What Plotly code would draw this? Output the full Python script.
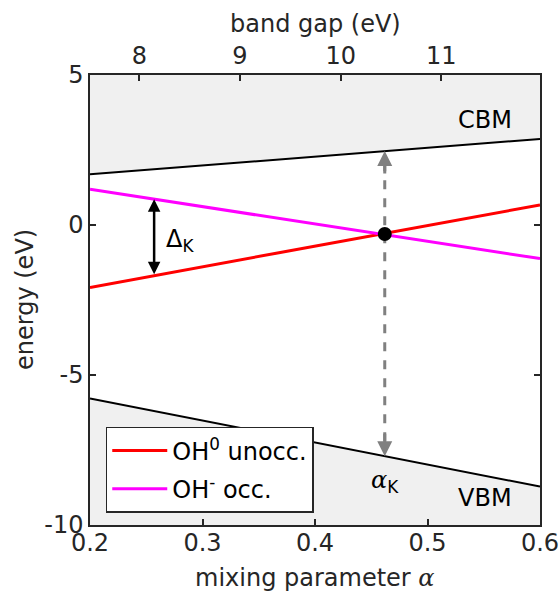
import plotly.graph_objects as go

# ---- data ----
alpha_ends = [0.2, 0.6]
cbm = [1.69, 2.87]          # conduction band minimum (eV)
vbm = [-5.78, -8.72]        # valence band maximum (eV)
oh0_unocc = [-2.08, 0.67]   # OH0 unoccupied level
ohm_occ = [1.19, -1.12]     # OH- occupied level
gap_ticks = [8, 9, 10, 11]
gap_range = [7.51, 11.98]
x_ticks = [0.2, 0.3, 0.4, 0.5, 0.6]
y_ticks = [5, 0, -5, -10]
alpha_delta = 0.257
alpha_k = 0.462


def lin(vals, a):
    t = (a - alpha_ends[0]) / (alpha_ends[1] - alpha_ends[0])
    return vals[0] + (vals[1] - vals[0]) * t


e_k = 0.5 * (lin(oh0_unocc, alpha_k) + lin(ohm_occ, alpha_k))

FONT = "DejaVu Sans"
GRAY = "rgb(240,240,240)"
AX = "#262626"
FS = 24

fig = go.Figure()

# shaded CBM region
fig.add_trace(go.Scatter(x=[alpha_ends[0], alpha_ends[1], alpha_ends[1], alpha_ends[0]],
                         y=[cbm[0], cbm[1], 5, 5], fill="toself", fillcolor=GRAY,
                         line=dict(width=0), mode="lines", showlegend=False, hoverinfo="skip"))
# shaded VBM region
fig.add_trace(go.Scatter(x=[alpha_ends[0], alpha_ends[1], alpha_ends[1], alpha_ends[0]],
                         y=[vbm[0], vbm[1], -10, -10], fill="toself", fillcolor=GRAY,
                         line=dict(width=0), mode="lines", showlegend=False, hoverinfo="skip"))
fig.add_trace(go.Scatter(x=alpha_ends, y=cbm, mode="lines", line=dict(color="black", width=2),
                         showlegend=False))
fig.add_trace(go.Scatter(x=alpha_ends, y=vbm, mode="lines", line=dict(color="black", width=2),
                         showlegend=False))

# gray dashed vertical line (without heads)
top = lin(cbm, alpha_k)
bot = lin(vbm, alpha_k)
fig.add_trace(go.Scatter(x=[alpha_k, alpha_k], y=[bot + 0.5, top - 0.5], mode="lines",
                         line=dict(color="gray", width=3, dash="dash"), showlegend=False))

fig.add_trace(go.Scatter(x=alpha_ends, y=oh0_unocc, mode="lines", legendgroup="a",
                         line=dict(color="red", width=3), name="OH<sup>0</sup> unocc."))
fig.add_trace(go.Scatter(x=alpha_ends, y=ohm_occ, mode="lines", legendgroup="b",
                         line=dict(color="magenta", width=3), name="OH<sup>-</sup> occ."))

fig.add_trace(go.Scatter(x=[alpha_k], y=[e_k], mode="markers",
                         marker=dict(color="black", size=14), showlegend=False))

# invisible trace for the top axis
fig.add_trace(go.Scatter(x=gap_range, y=[0, 0], xaxis="x2", mode="lines",
                         line=dict(width=0), showlegend=False, hoverinfo="skip"))

anns = []
# gray arrowheads
for tip, tail in [(top, top - 0.8), (bot, bot + 0.8)]:
    anns.append(dict(x=alpha_k, y=tip, ax=alpha_k, ay=tail, xref="x", yref="y",
                     axref="x", ayref="y", showarrow=True, arrowhead=2, arrowsize=1,
                     arrowwidth=3, arrowcolor="gray", text=""))
# black double arrow Delta_K
d_top = lin(ohm_occ, alpha_delta)
d_bot = lin(oh0_unocc, alpha_delta)
anns.append(dict(x=alpha_delta, y=d_top, ax=alpha_delta, ay=d_bot, xref="x", yref="y",
                 axref="x", ayref="y", showarrow=True, arrowhead=2, startarrowhead=2,
                 arrowside="end+start", arrowsize=1, startarrowsize=1,
                 arrowwidth=2.5, arrowcolor="black", text=""))
anns.append(dict(x=0.266, y=-0.5, xref="x", yref="y", text="Δ<sub>K</sub>", showarrow=False,
                 xanchor="left", font=dict(size=FS, color="black", family=FONT)))
anns.append(dict(x=alpha_k, y=-8.55, xref="x", yref="y",
                 text="<span style='font-family:DejaVu Serif'><i>α</i></span><sub>K</sub>",
                 showarrow=False, font=dict(size=FS, color="black", family=FONT)))
anns.append(dict(x=0.551, y=3.5, xref="x", yref="y", text="CBM", showarrow=False,
                 font=dict(size=FS, color="black", family=FONT)))
anns.append(dict(x=0.551, y=-9.1, xref="x", yref="y", text="VBM", showarrow=False,
                 font=dict(size=FS, color="black", family=FONT)))

# axis titles as positioned text
anns.append(dict(x=0.5, y=1, xref="paper", yref="paper", yshift=51, yanchor="middle",
                 text="band gap (eV)", showarrow=False, font=dict(size=FS, color=AX)))
anns.append(dict(x=0.5, y=0, xref="paper", yref="paper", yshift=-53, yanchor="middle",
                 text="mixing parameter <span style='font-family:DejaVu Serif'><i>α</i></span>",
                 showarrow=False, font=dict(size=FS, color=AX)))
anns.append(dict(x=0, y=0.5, xref="paper", yref="paper", xshift=-65, xanchor="center",
                 text="energy (eV)", textangle=-90, showarrow=False,
                 font=dict(size=FS, color=AX)))

axis_common = dict(ticks="inside", ticklen=6, tickwidth=1.5, tickcolor=AX,
                   showline=True, linewidth=1.5, linecolor=AX, showgrid=False,
                   zeroline=False, automargin=False, tickfont=dict(size=FS, color=AX))

fig.update_layout(
    width=560, height=593,
    margin=dict(l=90, r=20, t=75, b=68),
    plot_bgcolor="white", paper_bgcolor="white",
    font=dict(family=FONT, size=FS, color=AX),
    annotations=anns,
    xaxis=dict(range=[0.2, 0.6], tickvals=x_ticks, ticktext=[f"{v:.1f}" for v in x_ticks],
               ticklabelstandoff=-5, **axis_common),
    xaxis2=dict(range=gap_range, overlaying="x", side="top", tickvals=gap_ticks,
                **axis_common),
    yaxis=dict(range=[-10, 5], tickvals=y_ticks, ticktext=[str(v) for v in y_ticks],
               mirror="ticks", **axis_common),
    legend=dict(x=0.035, y=0.218, xanchor="left", yanchor="top", bgcolor="white",
                bordercolor=AX, borderwidth=1.5, font=dict(size=FS, color="black"),
                tracegroupgap=4, itemwidth=55),
)

fig.write_html("out.html")
